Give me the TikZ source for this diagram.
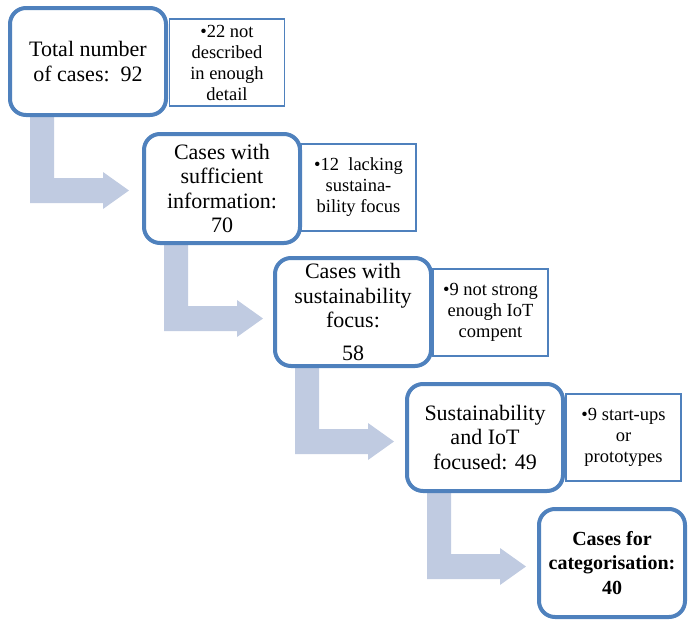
\documentclass[tikz,border=0pt]{standalone}
\usepackage{fontspec}
\setmainfont{Liberation Serif}
\usetikzlibrary{calc}
\pgfdeclarelayer{bg}
\pgfsetlayers{bg,main}
\definecolor{frameblue}{RGB}{79,129,189}
\definecolor{arrowfill}{RGB}{192,203,225}
\tikzset{
  stage/.style={draw=frameblue, line width=4pt, rounded corners=16pt, fill=white,
    minimum width=156pt, minimum height=107pt, inner sep=0pt, align=center,
    font=\fontsize{22}{24.5}\selectfont},
  note/.style={draw=frameblue, line width=1.3pt, fill=white,
    minimum width=115pt, minimum height=87pt, inner sep=0pt, align=center,
    font=\fontsize{18.5}{21}\selectfont},
  flow/.style={fill=arrowfill, draw=none}
}
% bent block arrow hanging below a stage box
\newcommand{\bentarrow}[1]{%
  \fill[arrowfill] ($(#1.south west)+(22,-5)$) -- ($(#1.south west)+(46,-5)$)
    -- ($(#1.south west)+(46,61)$) -- ($(#1.south west)+(95,61)$)
    -- ($(#1.south west)+(95,55)$) -- ($(#1.south west)+(121,73.5)$)
    -- ($(#1.south west)+(95,92)$) -- ($(#1.south west)+(95,86)$)
    -- ($(#1.south west)+(22,86)$) -- cycle;}
\begin{document}
\begin{tikzpicture}[x=1pt,y=-1pt]
\useasboundingbox (0,0) rectangle (688,621);

% side notes
\node[note] (n1) at (227,62.5) {\textbullet 22 not\\described\\in enough\\detail};
\node[note] (n2) at (358.5,187.5) {\textbullet 12\ \ lacking\\sustaina-\\bility focus};
\node[note] (n3) at (490.5,312.5) {\textbullet 9 not strong\\enough IoT\\compent};
\node[note] (n4) at (623.5,437.5) {\textbullet 9 start-ups\\or\\prototypes};

% stage boxes
\node[stage] (b1) at (88,61.5) {Total number\\of cases:\ \ 92};
\node[stage, minimum height=109pt] (b2) at (222,188.5) {Cases with\\sufficient\\information:\\70};
\node[stage, minimum height=108pt] (b3) at (353,312) {Cases with\\sustainability\\focus:\\[8pt]58};
\node[stage] (b4) at (485,437.5) {Sustainability\\and IoT\\focused: 49};
\node[stage, minimum width=146pt, minimum height=108pt, font=\fontsize{20}{24.5}\selectfont\bfseries] (b5) at (612,563) {Cases for\\categorisation:\\40};

% arrows between stages
\begin{pgfonlayer}{bg}
\bentarrow{b1}
\bentarrow{b2}
\bentarrow{b3}
\bentarrow{b4}
\end{pgfonlayer}
\end{tikzpicture}
\end{document}
